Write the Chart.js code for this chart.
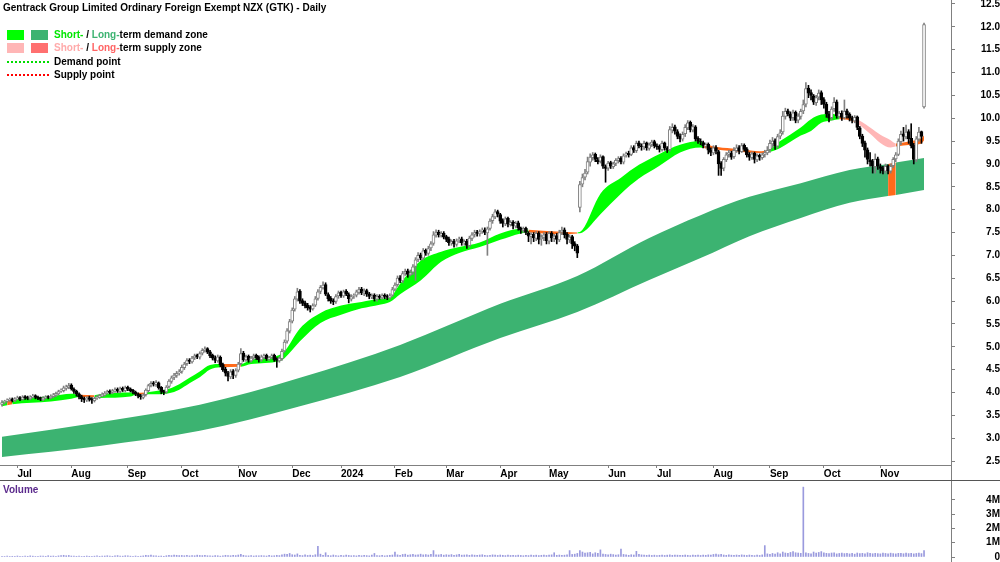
<!DOCTYPE html>
<html>
<head>
<meta charset="utf-8">
<script src="https://cdn.jsdelivr.net/npm/chart.js@4.4.1/dist/chart.umd.min.js"></script>
<style>
  html, body { margin: 0; padding: 0; background: #fff; }
  #wrap { position: relative; width: 1000px; height: 562px; overflow: hidden;
          font: bold 10px "Liberation Sans", Arial, sans-serif; }
  canvas { position: absolute; left: 0; }
  #price { top: 0; }
  #vol { top: 481px; }
  .txt { position: absolute; line-height: 12px; white-space: nowrap; color: #000; }
  .box { position: absolute; width: 17px; height: 10px; }
  .dots { position: absolute; left: 7px; width: 42px; height: 0; border-top: 2px dotted; }
</style>
</head>
<body>
<div id="wrap">
  <canvas id="price" width="1000" height="481" style="width:1000px;height:481px"></canvas>
  <canvas id="vol" width="1000" height="81" style="width:1000px;height:81px"></canvas>

  <div class="txt" style="left:3px;top:2px">Gentrack Group Limited Ordinary Foreign Exempt NZX (GTK) - Daily</div>

  <div class="box" style="left:7px;top:30px;background:#00ff00"></div>
  <div class="box" style="left:31px;top:30px;background:#3cb371"></div>
  <div class="txt" style="left:54px;top:29px"><span style="color:#00e600">Short-</span> / <span style="color:#3cb371">Long-</span>term demand zone</div>

  <div class="box" style="left:7px;top:43px;background:#ffb6b6"></div>
  <div class="box" style="left:31px;top:43px;background:#ff7070"></div>
  <div class="txt" style="left:54px;top:42px"><span style="color:#ffaaaa">Short-</span> / <span style="color:#ff6464">Long-</span>term supply zone</div>

  <div class="dots" style="top:61px;border-color:#00dd00"></div>
  <div class="txt" style="left:54px;top:56px">Demand point</div>
  <div class="dots" style="top:74px;border-color:#ff0000"></div>
  <div class="txt" style="left:54px;top:69px">Supply point</div>

  <div class="txt" style="left:3px;top:484px;color:#5b2a8c">Volume</div>
</div>

<script>
// month ticks (trading-day index) and labels
const monthIdx = [6, 27, 49, 70, 92, 113, 132, 153, 173, 194, 213, 236, 255, 277, 299, 320, 342];
const monthLabels = ["Jul", "Aug", "Sep", "Oct", "Nov", "Dec", "2024", "Feb", "Mar", "Apr", "May", "Jun", "Jul", "Aug", "Sep", "Oct", "Nov"];
const priceTicks = [2.5, 3.0, 3.5, 4.0, 4.5, 5.0, 5.5, 6.0, 6.5, 7.0, 7.5, 8.0, 8.5, 9.0, 9.5, 10.0, 10.5, 11.0, 11.5, 12.0, 12.5];
const volTicks = [0, 1, 2, 3, 4];
const volTickLabels = ["0", "1M", "2M", "3M", "4M"];

// daily candles
const opens = [
  3.74,3.79,3.81,3.83,3.86,3.82,3.86,3.89,3.85,3.91, 3.89,3.86,3.90,3.93,3.90,3.88,3.84,3.88,3.91,3.88,
  3.91,3.94,3.97,4.03,4.04,4.09,4.11,4.16,4.07,4.03, 3.97,3.91,3.87,3.83,3.89,3.86,3.82,3.88,3.90,3.92,
  3.95,3.99,4.03,4.00,4.03,4.07,4.02,4.09,4.04,4.11, 4.08,4.05,4.01,3.97,3.93,3.89,3.95,4.04,4.16,4.21,
  4.17,4.21,4.11,4.03,4.01,4.13,4.24,4.33,4.37,4.43, 4.46,4.54,4.63,4.71,4.67,4.76,4.81,4.77,4.86,4.93,
  4.96,4.89,4.81,4.76,4.69,4.77,4.61,4.51,4.43,4.34, 4.46,4.37,4.49,4.63,4.86,4.71,4.79,4.69,4.76,4.81,
  4.77,4.71,4.77,4.81,4.73,4.77,4.81,4.73,4.69,4.74, 4.91,5.12,5.34,5.56,5.82,6.04,6.22,6.01,5.96,5.91,
  5.86,5.83,5.91,6.06,6.21,6.29,6.36,6.14,6.06,6.01, 5.99,6.11,6.19,6.11,6.21,6.14,6.04,6.11,6.13,6.19,
  6.26,6.17,6.23,6.16,6.09,6.13,6.04,6.11,6.07,6.13, 6.11,6.07,6.13,6.26,6.36,6.51,6.44,6.61,6.66,6.57,
  6.63,6.76,6.91,7.01,6.94,7.11,7.04,7.16,7.26,7.44, 7.51,7.44,7.49,7.41,7.36,7.27,7.31,7.24,7.33,7.36,
  7.27,7.31,7.21,7.37,7.46,7.51,7.47,7.53,7.56,7.49, 7.59,7.76,7.84,7.96,7.89,7.76,7.69,7.81,7.67,7.73,
  7.64,7.71,7.59,7.54,7.59,7.49,7.41,7.46,7.37,7.49, 7.36,7.39,7.46,7.31,7.49,7.37,7.43,7.34,7.51,7.56,
  7.46,7.34,7.41,7.26,7.21,8.05,8.56,8.71,8.82,9.04, 9.14,9.21,9.09,9.06,9.16,8.94,8.91,9.03,8.94,9.01,
  9.07,9.13,9.04,9.19,9.23,9.21,9.36,9.29,9.46,9.39, 9.37,9.46,9.34,9.43,9.49,9.39,9.39,9.31,9.46,9.34,
  9.31,9.74,9.81,9.71,9.61,9.54,9.66,9.79,9.91,9.74, 9.81,9.56,9.49,9.47,9.39,9.43,9.31,9.24,9.36,9.27,
  9.02,8.91,9.09,9.21,9.24,9.16,9.29,9.36,9.27,9.41, 9.33,9.21,9.14,9.23,9.09,9.19,9.14,9.21,9.24,9.31,
  9.44,9.51,9.39,9.61,9.70,10.04,10.16,10.09,10.01,10.13, 9.96,10.04,10.16,10.31,10.66,10.56,10.49,10.34,10.46,10.56,
  10.41,10.31,10.09,10.01,10.21,10.36,10.04,10.11,10.01,10.16, 10.09,10.01,9.94,10.03,9.79,9.61,9.46,9.31,9.09,9.06,
  8.94,9.11,8.94,8.91,8.84,8.96,8.84,8.96,9.11,9.21, 9.49,9.66,9.59,9.71,9.56,9.41,9.09,9.54,9.71,10.25
];
const highs = [
  3.82,3.83,3.86,3.88,3.88,3.89,3.92,3.91,3.93,3.93, 3.92,3.93,3.96,3.95,3.92,3.90,3.91,3.93,3.93,3.95,
  3.98,4.01,4.05,4.08,4.14,4.16,4.20,4.19,4.10,4.05, 3.99,3.94,3.90,3.91,3.92,3.89,3.90,3.93,3.96,3.99,
  4.02,4.05,4.06,4.07,4.10,4.10,4.12,4.12,4.14,4.14, 4.10,4.07,4.03,3.99,3.96,3.97,4.08,4.18,4.24,4.24,
  4.26,4.23,4.13,4.05,4.15,4.28,4.36,4.42,4.46,4.50, 4.60,4.66,4.74,4.74,4.79,4.84,4.84,4.89,4.96,5.00,
  4.98,4.92,4.84,4.80,4.82,4.80,4.64,4.55,4.46,4.50, 4.50,4.52,4.66,4.96,4.90,4.82,4.82,4.79,4.84,4.84,
  4.80,4.82,4.84,4.84,4.79,4.84,4.84,4.76,4.78,4.95, 5.15,5.40,5.60,5.85,6.10,6.28,6.25,6.05,6.00,5.95,
  5.90,5.94,6.10,6.25,6.34,6.42,6.40,6.18,6.10,6.05, 6.14,6.22,6.22,6.24,6.25,6.18,6.14,6.16,6.24,6.30,
  6.30,6.27,6.26,6.19,6.16,6.16,6.14,6.14,6.16,6.16, 6.14,6.16,6.30,6.40,6.55,6.56,6.65,6.70,6.70,6.68,
  6.80,6.95,7.06,7.05,7.15,7.14,7.20,7.30,7.52,7.56, 7.55,7.52,7.52,7.44,7.40,7.34,7.35,7.36,7.40,7.40,
  7.34,7.35,7.42,7.50,7.55,7.55,7.56,7.60,7.60,7.62, 7.80,7.90,8.00,7.99,7.92,7.80,7.84,7.84,7.76,7.76,
  7.74,7.75,7.62,7.62,7.62,7.52,7.50,7.50,7.52,7.52, 7.45,7.50,7.50,7.52,7.52,7.46,7.48,7.55,7.62,7.60,
  7.50,7.45,7.44,7.30,7.24,8.62,8.78,8.88,9.15,9.22, 9.25,9.24,9.14,9.20,9.18,8.98,9.06,9.06,9.04,9.12,
  9.16,9.16,9.22,9.26,9.28,9.40,9.40,9.50,9.50,9.44, 9.50,9.48,9.46,9.52,9.52,9.44,9.42,9.50,9.48,9.38,
  9.82,9.88,9.85,9.75,9.66,9.70,9.86,9.95,9.94,9.86, 9.84,9.60,9.55,9.50,9.46,9.46,9.35,9.40,9.40,9.30,
  9.05,9.14,9.25,9.30,9.28,9.36,9.42,9.40,9.45,9.44, 9.36,9.25,9.26,9.26,9.22,9.22,9.24,9.30,9.38,9.52,
  9.58,9.55,9.65,9.75,10.15,10.22,10.20,10.14,10.18,10.16, 10.10,10.20,10.40,10.78,10.72,10.62,10.52,10.50,10.62,10.60,
  10.45,10.35,10.15,10.25,10.45,10.40,10.15,10.16,10.40,10.20, 10.12,10.05,10.06,10.05,9.82,9.65,9.50,9.35,9.25,9.10,
  9.22,9.15,9.00,8.95,9.00,8.98,9.00,9.14,9.25,9.55, 9.72,9.80,9.85,9.75,9.88,9.45,9.60,9.80,9.72,12.08
];
const lows = [
  3.70,3.75,3.78,3.80,3.79,3.80,3.84,3.82,3.83,3.85, 3.84,3.84,3.88,3.86,3.84,3.82,3.82,3.86,3.86,3.86,
  3.88,3.91,3.94,4.00,4.01,4.05,4.08,4.05,3.98,3.92, 3.86,3.80,3.78,3.80,3.81,3.76,3.79,3.85,3.87,3.90,
  3.92,3.96,3.97,3.97,4.00,4.00,3.99,4.02,4.01,4.04, 4.01,3.97,3.93,3.88,3.85,3.86,3.92,4.01,4.12,4.14,
  4.13,4.07,3.97,3.95,3.98,4.10,4.20,4.28,4.33,4.38, 4.42,4.50,4.59,4.63,4.64,4.72,4.74,4.73,4.82,4.88,
  4.85,4.76,4.71,4.65,4.66,4.56,4.46,4.36,4.25,4.30, 4.30,4.33,4.45,4.60,4.68,4.68,4.66,4.66,4.72,4.72,
  4.66,4.68,4.74,4.70,4.70,4.74,4.68,4.55,4.66,4.70, 4.88,5.08,5.30,5.52,5.78,6.00,5.95,5.90,5.85,5.80,
  5.76,5.80,5.88,6.02,6.16,6.26,6.12,6.00,5.95,5.92, 5.95,6.06,6.08,6.08,6.12,5.96,6.00,6.06,6.09,6.15,
  6.14,6.12,6.10,6.05,6.05,6.00,6.00,6.04,6.04,6.05, 6.03,6.04,6.10,6.22,6.32,6.40,6.40,6.56,6.52,6.55,
  6.58,6.45,6.86,6.90,6.90,7.00,7.00,7.10,7.22,7.40, 7.40,7.40,7.36,7.30,7.22,7.22,7.18,7.20,7.28,7.22,
  7.22,7.15,7.18,7.32,7.40,7.42,7.42,7.48,7.45,7.00, 7.55,7.70,7.80,7.84,7.70,7.62,7.65,7.62,7.64,7.58,
  7.60,7.55,7.48,7.50,7.45,7.30,7.25,7.30,7.32,7.25, 7.22,7.32,7.25,7.25,7.30,7.30,7.25,7.30,7.45,7.38,
  7.25,7.28,7.15,7.10,6.95,7.95,8.50,8.65,8.78,8.95, 9.08,9.05,9.00,9.02,8.90,8.60,8.86,8.90,8.90,8.96,
  9.02,9.00,9.00,9.15,9.15,9.18,9.25,9.25,9.35,9.30, 9.32,9.30,9.30,9.38,9.35,9.32,9.26,9.28,9.30,9.25,
  9.28,9.68,9.65,9.55,9.48,9.50,9.60,9.75,9.70,9.70, 9.50,9.45,9.42,9.35,9.35,9.22,9.18,9.20,9.22,8.75,
  8.75,8.85,9.05,9.15,9.10,9.12,9.25,9.22,9.25,9.28, 9.15,9.08,9.10,9.02,9.05,9.08,9.10,9.15,9.20,9.25,
  9.35,9.32,9.35,9.55,9.65,9.98,10.05,9.95,9.95,9.90, 9.90,9.98,10.10,10.25,10.45,10.40,10.30,10.28,10.40,10.30,
  10.22,10.02,9.92,9.96,10.15,10.00,10.00,9.95,9.98,10.00, 9.94,9.90,9.90,9.75,9.55,9.38,9.15,9.00,8.95,8.80,
  8.80,8.88,8.80,8.78,8.80,8.78,8.80,8.92,9.05,9.18, 9.42,9.50,9.55,9.45,9.35,9.00,9.05,9.50,9.45,10.22
];
const closes = [
  3.78,3.80,3.83,3.85,3.82,3.86,3.88,3.85,3.90,3.88, 3.87,3.90,3.92,3.89,3.87,3.85,3.88,3.90,3.89,3.92,
  3.95,3.98,4.02,4.05,4.10,4.12,4.15,4.08,4.02,3.96, 3.90,3.86,3.84,3.88,3.85,3.83,3.87,3.90,3.93,3.96,
  3.98,4.02,4.00,4.04,4.06,4.03,4.08,4.05,4.10,4.07, 4.04,4.00,3.96,3.92,3.90,3.94,4.05,4.15,4.20,4.18,
  4.22,4.10,4.02,4.00,4.12,4.25,4.32,4.38,4.42,4.45, 4.55,4.62,4.70,4.68,4.75,4.80,4.78,4.85,4.92,4.95,
  4.88,4.80,4.75,4.70,4.78,4.60,4.50,4.42,4.35,4.45, 4.38,4.48,4.62,4.85,4.72,4.78,4.70,4.75,4.80,4.76,
  4.72,4.78,4.80,4.74,4.76,4.80,4.72,4.70,4.75,4.90, 5.10,5.35,5.55,5.80,6.05,6.20,6.00,5.95,5.90,5.85,
  5.82,5.90,6.05,6.20,6.30,6.35,6.15,6.05,6.00,5.98, 6.10,6.18,6.12,6.20,6.15,6.05,6.10,6.12,6.20,6.25,
  6.18,6.22,6.15,6.10,6.12,6.05,6.10,6.08,6.12,6.10, 6.08,6.12,6.25,6.35,6.50,6.45,6.60,6.65,6.58,6.62,
  6.75,6.90,7.00,6.95,7.10,7.05,7.15,7.25,7.45,7.50, 7.45,7.48,7.40,7.35,7.28,7.30,7.25,7.32,7.35,7.28,
  7.30,7.22,7.38,7.45,7.50,7.48,7.52,7.55,7.50,7.58, 7.75,7.85,7.95,7.90,7.75,7.70,7.80,7.68,7.72,7.65,
  7.70,7.60,7.55,7.58,7.50,7.42,7.45,7.38,7.48,7.35, 7.40,7.45,7.32,7.48,7.38,7.42,7.35,7.50,7.55,7.45,
  7.35,7.40,7.25,7.20,7.05,8.55,8.70,8.80,9.05,9.15, 9.20,9.10,9.05,9.15,8.95,8.90,9.02,8.95,9.00,9.08,
  9.12,9.05,9.18,9.22,9.20,9.35,9.30,9.45,9.40,9.38, 9.45,9.35,9.42,9.48,9.40,9.38,9.32,9.45,9.35,9.30,
  9.75,9.80,9.72,9.60,9.55,9.65,9.80,9.90,9.75,9.82, 9.55,9.50,9.48,9.40,9.42,9.30,9.25,9.35,9.28,9.00,
  8.90,9.10,9.20,9.25,9.15,9.30,9.35,9.28,9.40,9.32, 9.20,9.15,9.22,9.10,9.18,9.15,9.20,9.25,9.30,9.45,
  9.50,9.40,9.60,9.68,10.05,10.15,10.10,10.00,10.12,9.95, 10.05,10.15,10.30,10.65,10.55,10.50,10.35,10.45,10.55,10.40,
  10.30,10.10,10.00,10.20,10.35,10.05,10.10,10.02,10.15,10.08, 10.00,9.95,10.02,9.80,9.60,9.45,9.30,9.10,9.05,8.95,
  9.10,8.95,8.90,8.85,8.95,8.85,8.95,9.10,9.20,9.50, 9.65,9.60,9.70,9.55,9.40,9.10,9.55,9.70,9.60,12.05
];
// volume, millions of shares
const volumes = [
  0.05,0.04,0.06,0.03,0.05,0.04,0.07,0.05,0.04,0.06, 0.05,0.08,0.06,0.04,0.05,0.07,0.06,0.05,0.09,0.06,
  0.07,0.05,0.08,0.10,0.12,0.09,0.11,0.07,0.06,0.05, 0.06,0.04,0.05,0.07,0.05,0.04,0.06,0.08,0.05,0.06,
  0.07,0.09,0.06,0.05,0.08,0.10,0.07,0.06,0.09,0.08, 0.06,0.05,0.07,0.04,0.06,0.08,0.12,0.10,0.14,0.09,
  0.08,0.06,0.07,0.05,0.09,0.11,0.10,0.13,0.12,0.10, 0.11,0.09,0.12,0.08,0.10,0.09,0.13,0.11,0.10,0.12,
  0.09,0.08,0.07,0.10,0.09,0.06,0.08,0.12,0.10,0.09, 0.11,0.10,0.14,0.18,0.12,0.09,0.08,0.10,0.07,0.09,
  0.08,0.10,0.09,0.07,0.11,0.08,0.09,0.12,0.10,0.15, 0.20,0.18,0.25,0.16,0.14,0.22,0.12,0.10,0.15,0.11,
  0.13,0.10,0.16,0.75,0.20,0.12,0.30,0.11,0.09,0.14, 0.10,0.08,0.12,0.09,0.14,0.11,0.09,0.10,0.08,0.12,
  0.09,0.11,0.10,0.08,0.13,0.25,0.10,0.09,0.12,0.08, 0.10,0.12,0.14,0.35,0.15,0.12,0.18,0.20,0.13,0.16,
  0.18,0.14,0.16,0.20,0.15,0.17,0.14,0.19,0.45,0.16, 0.15,0.18,0.13,0.16,0.14,0.17,0.12,0.15,0.18,0.13,
  0.14,0.16,0.12,0.15,0.13,0.11,0.14,0.16,0.12,0.10, 0.12,0.15,0.13,0.11,0.14,0.12,0.10,0.13,0.11,0.12,
  0.10,0.13,0.11,0.09,0.12,0.10,0.14,0.11,0.13,0.10, 0.12,0.14,0.11,0.13,0.15,0.30,0.12,0.14,0.11,0.13,
  0.15,0.45,0.18,0.20,0.25,0.45,0.35,0.28,0.30,0.32, 0.22,0.30,0.25,0.50,0.20,0.18,0.15,0.20,0.17,0.14,
  0.16,0.55,0.18,0.15,0.12,0.16,0.14,0.40,0.18,0.15, 0.13,0.12,0.14,0.11,0.13,0.10,0.12,0.14,0.11,0.13,
  0.15,0.12,0.14,0.13,0.11,0.12,0.14,0.12,0.10,0.13, 0.12,0.14,0.11,0.13,0.12,0.15,0.13,0.18,0.20,0.16,
  0.18,0.14,0.12,0.15,0.13,0.11,0.14,0.12,0.15,0.13, 0.11,0.14,0.12,0.10,0.13,0.11,0.15,0.80,0.22,0.18,
  0.25,0.20,0.30,0.22,0.35,0.28,0.25,0.32,0.38,0.30, 0.28,0.26,4.90,0.30,0.25,0.22,0.35,0.28,0.32,0.38,
  0.30,0.26,0.24,0.28,0.30,0.22,0.25,0.27,0.24,0.26, 0.22,0.25,0.20,0.28,0.24,0.26,0.22,0.30,0.25,0.23,
  0.26,0.24,0.22,0.28,0.25,0.23,0.27,0.24,0.22,0.26, 0.25,0.23,0.27,0.24,0.26,0.22,0.25,0.28,0.24,0.45
];

// short-term zone band: knot index, upper, lower, zone of the segment starting there
const shortIdx   = [0, 2, 4, 19, 27, 30, 36, 38, 50, 52, 56, 60, 65, 69, 73, 77, 81, 85, 93, 97, 108, 110, 116, 124, 132, 140, 147, 151, 155, 163, 171, 178, 186, 194, 202, 205, 216, 224, 226, 233, 241, 248, 256, 264, 272, 273, 288, 295, 298, 303, 311, 315, 319, 323, 326, 332, 338, 342, 346, 348, 354, 358, 359];
const shortUpper = [3.80, 3.82, 3.84, 3.92, 3.97, 3.95, 3.94, 3.96, 4.00, 3.99, 4.00, 4.03, 4.08, 4.18, 4.32, 4.46, 4.60, 4.62, 4.62, 4.72, 4.82, 4.90, 5.40, 5.74, 5.90, 5.98, 6.05, 6.08, 6.38, 6.88, 7.08, 7.18, 7.28, 7.48, 7.58, 7.56, 7.52, 7.50, 7.56, 8.35, 8.70, 8.98, 9.22, 9.42, 9.50, 9.46, 9.32, 9.28, 9.30, 9.50, 9.80, 9.98, 10.08, 10.10, 10.06, 10.00, 9.80, 9.64, 9.52, 9.45, 9.50, 9.56, 9.62];
const shortLower = [3.70, 3.72, 3.74, 3.80, 3.86, 3.90, 3.90, 3.88, 3.91, 3.95, 3.96, 3.96, 3.98, 4.06, 4.20, 4.33, 4.50, 4.55, 4.56, 4.62, 4.68, 4.75, 5.12, 5.52, 5.70, 5.84, 5.92, 5.98, 6.15, 6.45, 6.86, 7.05, 7.18, 7.34, 7.48, 7.50, 7.46, 7.48, 7.50, 7.90, 8.35, 8.68, 8.96, 9.25, 9.36, 9.35, 9.26, 9.24, 9.25, 9.35, 9.62, 9.72, 9.90, 9.95, 9.98, 9.92, 9.66, 9.46, 9.36, 9.38, 9.42, 9.45, 9.52];
const shortZone  = ["d", "s", "d", "d", "d", "s", "d", "d", "d", "s", "d", "d", "d", "d", "d", "d", "d", "s", "d", "d", "d", "d", "d", "d", "d", "d", "d", "d", "d", "d", "d", "d", "d", "d", "d", "s", "s", "d", "d", "d", "d", "d", "d", "d", "d", "s", "s", "s", "d", "d", "d", "d", "d", "d", "s", "w", "w", "w", "w", "s", "s", "s", "s"];

// long-term zone band
const longIdx   = [0, 38, 77, 116, 155, 194, 224, 252, 272, 291, 311, 330, 345, 348, 359];
const longUpper = [3.03, 3.35, 3.73, 4.32, 5.04, 5.94, 6.55, 7.38, 7.88, 8.28, 8.58, 8.87, 9.00, 9.03, 9.13];
const longLower = [2.59, 2.83, 3.16, 3.70, 4.34, 5.19, 5.76, 6.46, 6.94, 7.42, 7.82, 8.15, 8.30, 8.32, 8.43];
const longZone  = ["d", "d", "d", "d", "d", "d", "d", "d", "d", "d", "d", "d", "s", "d", "d"];

const shortColors = { d: "#00ff00", s: "#ff6a1a", w: "#ffb6b6" };
const longColors = { d: "#3cb371", s: "#ff6a1a" };
const axisFont = { family: "'Liberation Sans', Arial, sans-serif", size: 10, weight: "bold" };
const X_MIN = -0.78, X_MAX = 369.5;

const isUp = closes.map((c, i) => c >= opens[i]);

function band(idx, vals) {
  return idx.map((x, k) => ({ x: x, y: vals[k] }));
}

const framePlugin = {
  id: "frame",
  afterDraw(chart) {
    const ctx = chart.ctx;
    ctx.save();
    ctx.strokeStyle = "#808080";
    ctx.lineWidth = 1;
    ctx.beginPath();
    ctx.moveTo(951.5, 0);
    ctx.lineTo(951.5, 481);
    ctx.stroke();
    ctx.strokeStyle = "#555";
    ctx.beginPath();
    ctx.moveTo(0, 480.5);
    ctx.lineTo(1000, 480.5);
    ctx.stroke();
    ctx.restore();
  },
};

new Chart(document.getElementById("price"), {
  type: "bar",
  data: {
    datasets: [
      {
        type: "bar",
        label: "bodies",
        data: closes.map((c, i) => ({ x: i, y: [opens[i], c] })),
        backgroundColor: isUp.map((u) => (u ? "#ffffff" : "#000000")),
        borderColor: isUp.map((u) => (u ? "#808080" : "#000000")),
        borderWidth: 1,
        borderSkipped: false,
        barThickness: 3,
        grouped: false,
        order: 1,
      },
      {
        type: "bar",
        label: "wicks",
        data: highs.map((h, i) => ({ x: i, y: [lows[i], h] })),
        backgroundColor: isUp.map((u) => (u ? "#808080" : "#000000")),
        borderWidth: 0,
        barThickness: 1,
        grouped: false,
        order: 2,
      },
      {
        type: "line",
        label: "shortUpper",
        data: band(shortIdx, shortUpper),
        borderWidth: 0,
        pointRadius: 0,
        cubicInterpolationMode: "monotone",
        fill: "+1",
        backgroundColor: shortColors.d,
        segment: { backgroundColor: (ctx) => shortColors[shortZone[ctx.p0DataIndex]] },
        order: 5,
      },
      {
        type: "line",
        label: "shortLower",
        data: band(shortIdx, shortLower),
        borderWidth: 0,
        pointRadius: 0,
        cubicInterpolationMode: "monotone",
        fill: false,
        order: 6,
      },
      {
        type: "line",
        label: "longUpper",
        data: band(longIdx, longUpper),
        borderWidth: 0,
        pointRadius: 0,
        cubicInterpolationMode: "monotone",
        fill: "+1",
        backgroundColor: longColors.d,
        segment: { backgroundColor: (ctx) => longColors[longZone[ctx.p0DataIndex]] },
        order: 7,
      },
      {
        type: "line",
        label: "longLower",
        data: band(longIdx, longLower),
        borderWidth: 0,
        pointRadius: 0,
        cubicInterpolationMode: "monotone",
        fill: false,
        order: 8,
      },
    ],
  },
  options: {
    responsive: false,
    animation: false,
    events: [],
    layout: { padding: 0 },
    plugins: { legend: { display: false }, tooltip: { enabled: false } },
    scales: {
      x: {
        type: "linear",
        min: X_MIN,
        max: X_MAX,
        offset: false,
        afterBuildTicks: (s) => { s.ticks = monthIdx.map((v) => ({ value: v })); },
        afterFit: (s) => { s.height = 16; s.paddingLeft = 0; s.paddingRight = 0; },
        ticks: {
          font: axisFont,
          color: "#000",
          align: "start",
          padding: 0,
          maxRotation: 0,
          autoSkip: false,
          callback: (v, i) => monthLabels[i],
        },
        grid: { offset: false, drawOnChartArea: false, tickLength: 3, color: "#808080" },
        border: { color: "#808080" },
      },
      y: {
        type: "linear",
        position: "right",
        min: 2.4125,
        max: 12.5875,
        afterBuildTicks: (s) => { s.ticks = priceTicks.map((v) => ({ value: v })); },
        afterFit: (s) => { s.width = 49; s.paddingTop = 0; s.paddingBottom = 0; },
        ticks: { font: axisFont, color: "#000", padding: 20, crossAlign: "far", callback: (v) => v.toFixed(1) },
        grid: { drawOnChartArea: false, tickLength: 4, color: "#808080" },
        border: { color: "#808080" },
      },
    },
  },
  plugins: [framePlugin],
});

new Chart(document.getElementById("vol"), {
  type: "bar",
  data: {
    datasets: [
      {
        label: "Volume",
        data: volumes.map((v, i) => ({ x: i, y: v })),
        backgroundColor: "#9a9ade",
        borderWidth: 0,
        barThickness: 1,
        grouped: false,
      },
    ],
  },
  options: {
    responsive: false,
    animation: false,
    events: [],
    layout: { padding: 0 },
    plugins: { legend: { display: false }, tooltip: { enabled: false } },
    scales: {
      x: { type: "linear", min: X_MIN, max: X_MAX, offset: false, display: false },
      y: {
        type: "linear",
        position: "right",
        min: -0.35,
        max: 5.33,
        afterBuildTicks: (s) => { s.ticks = volTicks.map((v) => ({ value: v })); },
        afterFit: (s) => { s.width = 49; s.paddingTop = 0; s.paddingBottom = 0; },
        ticks: { font: axisFont, color: "#000", padding: 26, crossAlign: "far", callback: (v, i) => volTickLabels[i] },
        grid: { drawOnChartArea: false, tickLength: 4, color: "#808080" },
        border: { color: "#808080" },
      },
    },
  },
});
</script>
</body>
</html>
